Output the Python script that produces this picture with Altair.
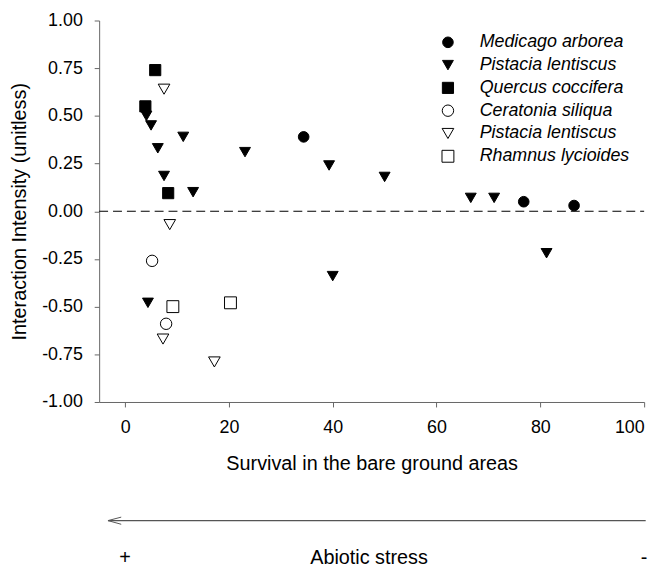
import altair as alt
import pandas as pd

# ---- data ----
species_keys = ["Medicago arborea", "Pistacia lentiscus", "Quercus coccifera",
                "Ceratonia siliqua", "Pistacia lentiscus ", "Rhamnus lycioides"]

medicago_x = [34.4, 76.8, 86.5]
medicago_y = [0.39, 0.05, 0.03]

pistacia_filled_x = [4.1, 5.0, 11.2, 6.3, 23.1, 7.5, 13.1, 4.4, 39.3, 50.0, 66.6, 40.0, 71.1, 81.2]
pistacia_filled_y = [0.50, 0.45, 0.39, 0.33, 0.31, 0.185, 0.10, -0.48, 0.24, 0.18, 0.07, -0.34, 0.07, -0.22]

quercus_x = [5.8, 3.9, 8.3]
quercus_y = [0.74, 0.55, 0.095]

ceratonia_x = [5.2, 7.9]
ceratonia_y = [-0.26, -0.59]

pistacia_open_x = [7.5, 8.6, 7.3, 17.2]
pistacia_open_y = [0.64, -0.07, -0.67, -0.79]

rhamnus_x = [9.2, 20.3]
rhamnus_y = [-0.50, -0.48]

x_ticks = [0, 20, 40, 60, 80, 100]
y_ticks = [-1.0, -0.75, -0.5, -0.25, 0.0, 0.25, 0.5, 0.75, 1.0]

series = [
    (species_keys[0], medicago_x, medicago_y),
    (species_keys[1], pistacia_filled_x, pistacia_filled_y),
    (species_keys[2], quercus_x, quercus_y),
    (species_keys[3], ceratonia_x, ceratonia_y),
    (species_keys[4], pistacia_open_x, pistacia_open_y),
    (species_keys[5], rhamnus_x, rhamnus_y),
]
rows = []
for key, xs, ys in series:
    for xv, yv in zip(xs, ys):
        rows.append({"species": key, "survival": xv, "intensity": yv})
df = pd.DataFrame(rows)

FONT = "Liberation Sans"
shape_range = ["circle", "triangle-down", "square", "circle", "triangle-down", "square"]
fill_range = ["black", "black", "black", "white", "white", "white"]
stroke_range = ["black"] * 6
size_range = [115, 144, 100, 115, 144, 100]

x_scale = alt.Scale(domain=[-5, 100], nice=False, zero=False)
y_scale = alt.Scale(domain=[-1, 1], nice=False, zero=False)

legend = alt.Legend(
    title=None, orient="none", legendX=343, legendY=13,
    labelFont=FONT, labelFontSize=18, labelFontStyle="italic", labelColor="black",
    labelOffset=23, rowPadding=5, symbolStrokeWidth=1,
)

points = alt.Chart(df).mark_point(filled=True, strokeWidth=1, opacity=1).encode(
    x=alt.X("survival:Q", scale=x_scale, axis=alt.Axis(
        values=x_ticks, tickSize=5, labelPadding=12, labelFontSize=18, labelFont=FONT,
        labelColor="black", domainColor="#666666", tickColor="#666666", grid=False,
        title="Survival in the bare ground areas", titleFont=FONT, titleFontSize=20,
        titleFontWeight="normal", titleColor="black", titleBaseline="middle", titleY=62)),
    y=alt.Y("intensity:Q", scale=y_scale, axis=alt.Axis(
        values=y_ticks, labelExpr="replace(format(datum.value, '.2f'), '\u2212', '-')",
        tickSize=5, labelPadding=12, labelFontSize=18,
        labelFont=FONT, labelColor="black", domainColor="#666666", tickColor="#666666",
        grid=False, title="Interaction Intensity (unitless)", titleFont=FONT,
        titleFontSize=20, titleFontWeight="normal", titleColor="black",
        titleAngle=-90, titleBaseline="middle", titleAlign="center",
        titleX=-80, titleY=192.5)),
    shape=alt.Shape("species:N", scale=alt.Scale(domain=species_keys, range=shape_range), legend=legend),
    fill=alt.Fill("species:N", scale=alt.Scale(domain=species_keys, range=fill_range), legend=legend),
    stroke=alt.Stroke("species:N", scale=alt.Scale(domain=species_keys, range=stroke_range), legend=legend),
    size=alt.Size("species:N", scale=alt.Scale(domain=species_keys, range=size_range), legend=legend),
)

zero_df = pd.DataFrame({"x1": [-5], "x2": [100], "y": [0]})
zero_line = alt.Chart(zero_df).mark_rule(color="black", strokeWidth=1.1, strokeDash=[9, 5]).encode(
    x="x1:Q", x2="x2:Q", y="y:Q")

arrow_df = pd.DataFrame({"x1": [-3.3], "x2": [100.3]})
arrow_line = alt.Chart(arrow_df).mark_rule(color="#555555", strokeWidth=1.2).encode(
    x="x1:Q", x2="x2:Q", y=alt.value(504.7))

head_df = pd.DataFrame({"x1": [-3.3], "x2": [-0.75]})
head_up = alt.Chart(head_df).mark_rule(color="#555555", strokeWidth=1).encode(
    x="x1:Q", x2="x2:Q", y=alt.value(504.7), y2=alt.value(501.2))
head_dn = alt.Chart(head_df).mark_rule(color="#555555", strokeWidth=1).encode(
    x="x1:Q", x2="x2:Q", y=alt.value(504.7), y2=alt.value(508.4))

stress_labels = ["+", "Abiotic stress", "-"]
stress_x = [0, 47, 100]
stress_df = pd.DataFrame({"label": stress_labels, "x": stress_x})
stress_text = alt.Chart(stress_df).mark_text(
    font=FONT, fontSize=20, color="black", baseline="middle", align="center").encode(
    x="x:Q", y=alt.value(542), text="label:N")

chart = alt.layer(zero_line, points, arrow_line, head_up, head_dn, stress_text).properties(
    width=550, height=385,
    autosize=alt.AutoSizeParams(type="none"),
    padding={"left": 92, "top": 10, "right": 15, "bottom": 175},
).configure_view(stroke=None).configure_axis(domainWidth=1, tickWidth=1)

chart.save("out.html", embed_options={"renderer": "svg", "actions": False})
